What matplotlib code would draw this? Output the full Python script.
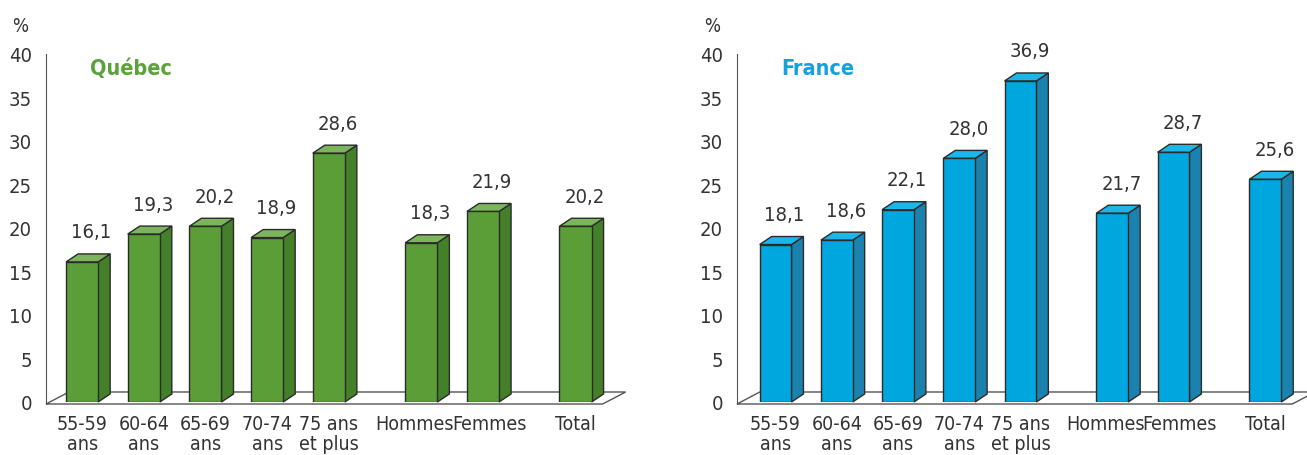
import matplotlib.pyplot as plt
from matplotlib.patches import Polygon
import matplotlib.transforms as mtransforms

plt.rcParams['font.family'] = ['DejaVu Sans']
plt.rcParams['font.stretch'] = 'condensed'

categories = ['55-59\nans', '60-64\nans', '65-69\nans', '70-74\nans', '75 ans\net plus',
              'Hommes', 'Femmes', 'Total']
positions = [0, 1, 2, 3, 4, 5.5, 6.5, 8]
quebec = [16.1, 19.3, 20.2, 18.9, 28.6, 18.3, 21.9, 20.2]
france = [18.1, 18.6, 22.1, 28.0, 36.9, 21.7, 28.7, 25.6]
yticks = [0, 5, 10, 15, 20, 25, 30, 35, 40]

TXT = '#333333'
EDGE = '#2b2b2b'


def draw_panel(ax, values, title, front, side, top, title_color, xmin, xmax):
    ax.set_xlim(xmin, xmax)
    ax.set_ylim(0, 40)
    w = 0.52
    ddx, ddy = 0.195, 0.92      # bar depth
    fdx, fdy = 0.373, 1.38      # floor depth
    f0 = -0.23
    fx1 = positions[-1] + 0.44
    floor = Polygon([(xmin, f0), (fx1, f0), (fx1 + fdx, f0 + fdy), (xmin + fdx, f0 + fdy)],
                    closed=True, facecolor='white', edgecolor='#555555', lw=1,
                    clip_on=False, zorder=1)
    ax.add_patch(floor)
    for x, v in zip(positions, values):
        x0, x1 = x - w / 2, x + w / 2
        ax.add_patch(Polygon([(x1, 0), (x1 + ddx, ddy), (x1 + ddx, v + ddy), (x1, v)],
                             facecolor=side, edgecolor=EDGE, lw=1, zorder=3, clip_on=False))
        ax.add_patch(Polygon([(x0, v), (x1, v), (x1 + ddx, v + ddy), (x0 + ddx, v + ddy)],
                             facecolor=top, edgecolor=EDGE, lw=1, zorder=3, clip_on=False))
        ax.bar(x, v, width=w, color=front, edgecolor=EDGE, lw=1, zorder=4)
        ax.annotate(f'{v:.1f}'.replace('.', ','), (x + ddx / 2 + 0.05, v + ddy),
                    xytext=(0, 9), textcoords='offset points', ha='center', va='bottom',
                    fontsize=14.5, color=TXT)
    for s in ['top', 'right', 'bottom']:
        ax.spines[s].set_visible(False)
    ax.spines['left'].set_color('#555555')
    ax.spines['left'].set_bounds(f0, 40)
    ax.set_yticks(yticks)
    ax.set_xticks(positions)
    ax.set_xticklabels(categories, fontsize=14, color=TXT, linespacing=1.05)
    ax.tick_params(axis='x', length=0, pad=9)
    ax.tick_params(axis='y', length=0, pad=10, labelsize=14.5, labelcolor=TXT)
    # Hommes / Femmes labels sit slightly apart in the reference
    labels = ax.get_xticklabels()
    for lab, shift in ((labels[5], -7), (labels[6], 6)):
        lab.set_transform(lab.get_transform() +
                          mtransforms.ScaledTranslation(shift / 100, 0, ax.figure.dpi_scale_trans))
    ax.text(-0.058, 1.055, '%', transform=ax.transAxes, fontsize=13.5, color=TXT,
            ha='left', va='bottom')
    ax.text(0.077, 0.96, title, transform=ax.transAxes, fontsize=15.5, fontweight='bold',
            color=title_color, ha='left', va='center')


fig = plt.figure(figsize=(13.07, 4.56), dpi=100)
ax1 = fig.add_axes([46 / 1307, 53 / 456, 577 / 1307, 348 / 456])
ax2 = fig.add_axes([737 / 1307, 53 / 456, 570 / 1307, 348 / 456])

draw_panel(ax1, quebec, 'Québec', '#5b9e37', '#447f29', '#7db55d', '#5ba23a', -0.585, 8.77)
draw_panel(ax2, france, 'France', '#00a7de', '#1b82ad', '#1cb6e8', '#12a2dc', -0.63, 8.68)

fig.savefig('out.png', dpi=100)
plt.close(fig)
